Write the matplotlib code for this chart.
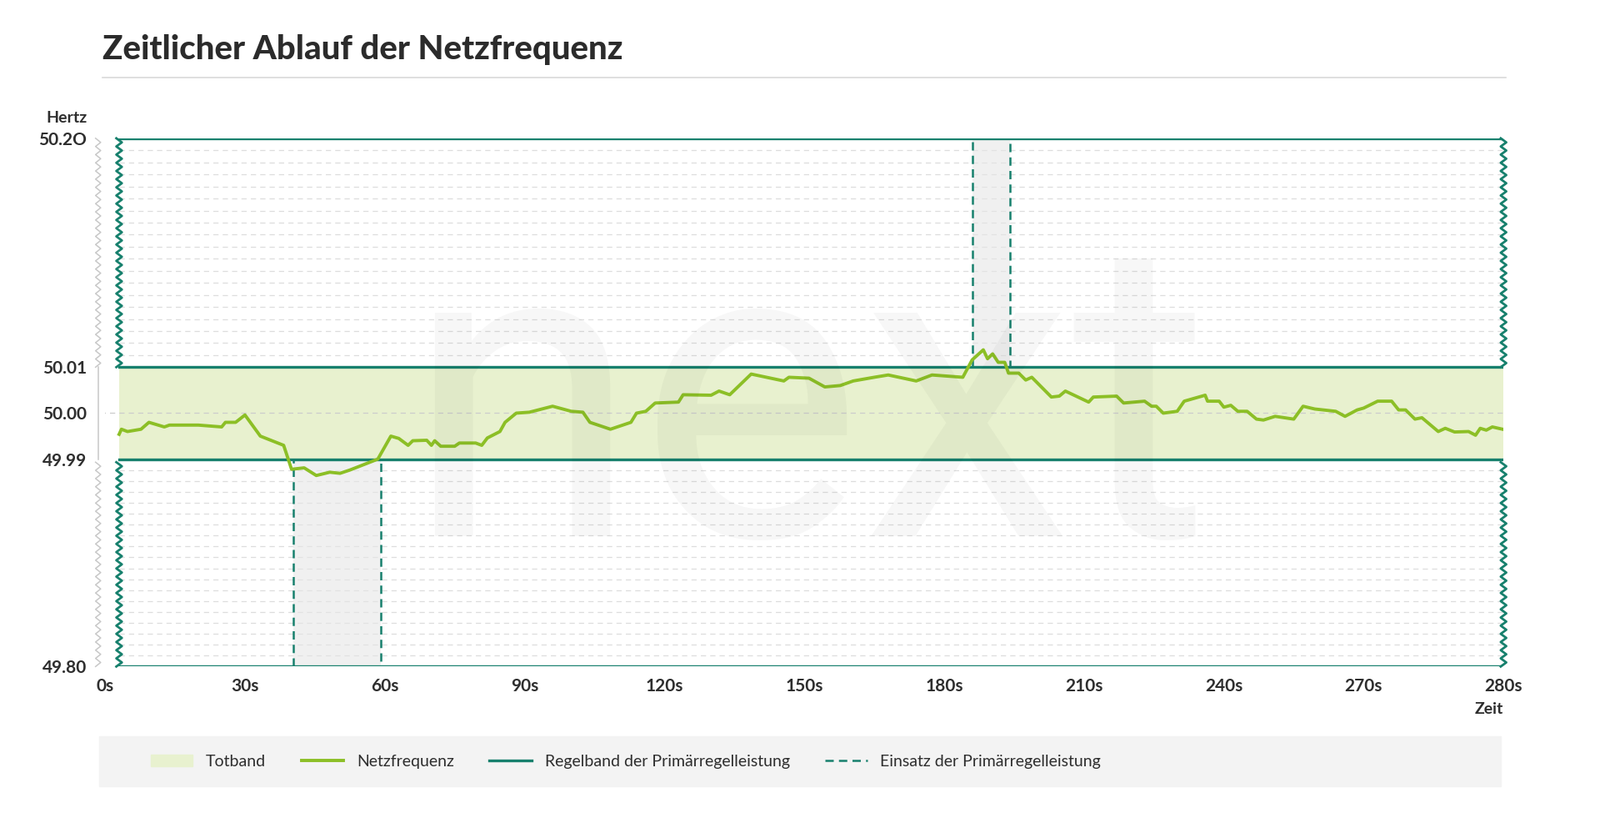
import numpy as np
import matplotlib
matplotlib.use('Agg')
import matplotlib.pyplot as plt
from matplotlib.lines import Line2D
from matplotlib.patches import Patch

matplotlib.rcParams.update({'font.family': 'Lato'})

# frequency trace (seconds on the evenly spaced axis, Hz)
zeit = [3, 3.5, 4.8, 7.7, 9.4, 12.7, 13.8, 20, 25, 25.8, 28, 30, 33.3, 38.3, 40, 42.7,
        45.3, 48.2, 50.4, 52.5, 58.5, 61.3, 63, 65, 66, 69, 70, 70.7, 72, 75, 76, 79.5,
        80.8, 82, 84.7, 85.8, 88.2, 91, 96, 100, 102.5, 104, 108.4, 112.8, 114, 116, 118,
        123, 124, 130, 131.7, 134, 138.6, 145.6, 146.7, 151, 154.4, 157.7, 160.5, 165, 168,
        174, 177.4, 184, 186, 188.4, 189.3, 190.4, 191.6, 193, 193.8, 196, 197.5, 198.8,
        203, 204.7, 206, 211, 212, 217, 218.5, 223, 224.5, 225.5, 227, 230, 231.5, 236,
        236.5, 239, 240, 241.5, 243, 245, 247, 248.5, 251, 255, 257, 259.5, 264, 266,
        268.6, 270, 273, 276, 277.5, 279, 281, 282.5, 286, 287.5, 289.5, 292.5, 294, 295,
        296.3, 297.6, 299.8]
netzfrequenz = [49.9954, 49.9965, 49.996, 49.9965, 49.998, 49.997, 49.9974, 49.9974, 49.997,
                49.998, 49.998, 49.9996, 49.995, 49.993, 49.9807, 49.982, 49.975, 49.978,
                49.977, 49.980, 49.990, 49.995, 49.9945, 49.993, 49.994, 49.9941, 49.993,
                49.994, 49.9928, 49.9928, 49.9935, 49.9935, 49.993, 49.9946, 49.996, 49.998,
                50.000, 50.0002, 50.0015, 50.0004, 50.0002, 49.998, 49.9965, 49.998, 50.000,
                50.0004, 50.0022, 50.0024, 50.004, 50.0039, 50.0048, 50.004, 50.0085, 50.007,
                50.0078, 50.0076, 50.0057, 50.006, 50.007, 50.0078, 50.0083, 50.007, 50.0083,
                50.0078, 50.016, 50.0244, 50.017, 50.021, 50.014, 50.014, 50.0087, 50.0087,
                50.0072, 50.0078, 50.0035, 50.0037, 50.0048, 50.0024, 50.0035, 50.0037,
                50.0022, 50.0026, 50.0015, 50.0015, 50.0000, 50.0004, 50.0026, 50.0039,
                50.0026, 50.0026, 50.0013, 50.0017, 50.0004, 50.0004, 49.9987, 49.9985,
                49.9993, 49.9987, 50.0015, 50.0009, 50.0004, 49.9993, 50.0007, 50.0011,
                50.0026, 50.0026, 50.0007, 50.0007, 49.9987, 49.999, 49.996, 49.9967,
                49.9959, 49.996, 49.9952, 49.9967, 49.9963, 49.997, 49.9965]

x_ticks = [0, 30, 60, 90, 120, 150, 180, 210, 240, 270, 300]
x_labels = ['0s', '30s', '60s', '90s', '120s', '150s', '180s', '210s', '240s', '270s', '280s']
y_ticks = [49.80, 49.99, 50.00, 50.01, 50.20]
y_labels = ['49.80', '49.99', '50.00', '50.01', '50.2O']
totband = (49.99, 50.01)
einsatz = [(40.4, 59.2, 49.80, 49.99), (186.0, 194.2, 50.01, 50.20)]

# broken y axis: band is stretched relative to the outer ranges
hz_pts = np.array([49.80, 49.99, 50.01, 50.20])
v_pts = np.array([0, 203, 293, 517])
fwd = lambda y: np.interp(y, hz_pts, v_pts)
inv = lambda v: np.interp(v, v_pts, hz_pts)

TEAL = '#17806d'
LIME = '#8cbf26'
BAND = '#e8f1cf'
TXT = '#2e2e2e'

fig = plt.figure(figsize=(19.2, 9.93), dpi=100)
ax = fig.add_axes([0.0657, 0.195, 0.874, 0.638])
ax.set_yscale('function', functions=(fwd, inv))
ax.set_xlim(0, 300)
ax.set_ylim(49.80, 50.20)

x0 = 3
# grid
for g in np.arange(49.81, 49.99, 0.01):
    ax.plot([x0, 300], [g, g], color='#dddddd', lw=0.9, ls=(0, (5, 4)), zorder=1)
for g in np.arange(50.02, 50.20, 0.01):
    ax.plot([x0, 300], [g, g], color='#dddddd', lw=0.9, ls=(0, (5, 4)), zorder=1)
ax.plot([-3, 300], [50.0, 50.0], color='#cccccc', lw=0.9, ls=(0, (5, 4)), zorder=2)

ax.fill_between([x0, 300], totband[0], totband[1], color=BAND, zorder=1, lw=0)

for xa, xb, ya, yb in einsatz:
    ax.fill_between([xa, xb], ya, yb, color='#e6e6e6', alpha=0.6, zorder=1, lw=0)
    ax.plot([xa, xa, xb, xb], [ya, yb, yb, ya], color=TEAL, lw=1.8, ls=(0, (4, 2.5)), zorder=3)

for y in [49.80, 49.99, 50.01, 50.20]:
    ax.plot([x0, 300], [y, y], color=TEAL, lw=2.4, zorder=4)


def zigzag(xc, va, vb, amp, color, lw):
    v = np.arange(va, vb + 0.01, 4.0)
    xs = xc + amp * np.where(np.arange(len(v)) % 2 == 0, -1, 1)
    ax.plot(xs, inv(v), color=color, lw=lw, zorder=4, clip_on=False)


for va, vb in [(0, 203), (293, 517)]:
    zigzag(x0, va, vb, 0.6, TEAL, 2.0)
    zigzag(300, va, vb, 0.6, TEAL, 2.0)
    zigzag(-1.5, va, vb, 0.55, '#c8c8c8', 1.1)
ax.plot([-1.5, -1.5], [49.99, 50.01], color='#c8c8c8', lw=1.1, clip_on=False)

ax.plot(zeit, netzfrequenz, color=LIME, lw=2.8, zorder=5)

for s in ax.spines.values():
    s.set_visible(False)
ax.set_xticks(x_ticks, x_labels)
ax.set_yticks(y_ticks, y_labels)
ax.minorticks_off()
ax.tick_params(length=0, labelsize=15, colors=TXT, pad=10)
ax.tick_params(axis='y', pad=16)
for lab in ax.get_xticklabels() + ax.get_yticklabels():
    lab.set_fontweight('bold')
ax.text(-0.013, 1.025, 'Hertz', transform=ax.transAxes, fontsize=14, color=TXT,
        ha='right', va='bottom', fontweight='bold')
ax.text(1.0, -0.068, 'Zeit', transform=ax.transAxes, fontsize=14, color=TXT,
        ha='right', va='top', fontweight='bold')

# faint watermark over the chart
fig.text(0.505, 0.352, 'next', fontsize=365, color='black', alpha=0.032, ha='center',
         va='baseline', zorder=6, family='Roboto', fontweight='normal')

fig.text(0.064, 0.94, 'Zeitlicher Ablauf der Netzfrequenz', fontsize=29, fontweight='heavy',
         color='#2b2b2b', va='center')
fig.add_artist(Line2D([0.064, 0.941], [0.906, 0.906], color='#d9d9d9', lw=1.2))

# legend box
fig.patches.append(matplotlib.patches.Rectangle((0.062, 0.05), 0.876, 0.061,
                   transform=fig.transFigure, color='#f3f3f3', zorder=0))
handles = [Patch(color=BAND, label='Totband'),
           Line2D([], [], color=LIME, lw=2.8, label='Netzfrequenz'),
           Line2D([], [], color=TEAL, lw=2.4, label='Regelband der Primärregelleistung'),
           Line2D([], [], color=TEAL, lw=1.8, ls=(0, (4, 2.5)), label='Einsatz der Primärregelleistung')]
fig.legend(handles=handles, loc='center left', bbox_to_anchor=(0.085, 0.0805), ncol=4,
           frameon=False, fontsize=14, handlelength=2.6, columnspacing=2.2,
           labelcolor=TXT)

fig.savefig('out.png', dpi=100, facecolor='white')
